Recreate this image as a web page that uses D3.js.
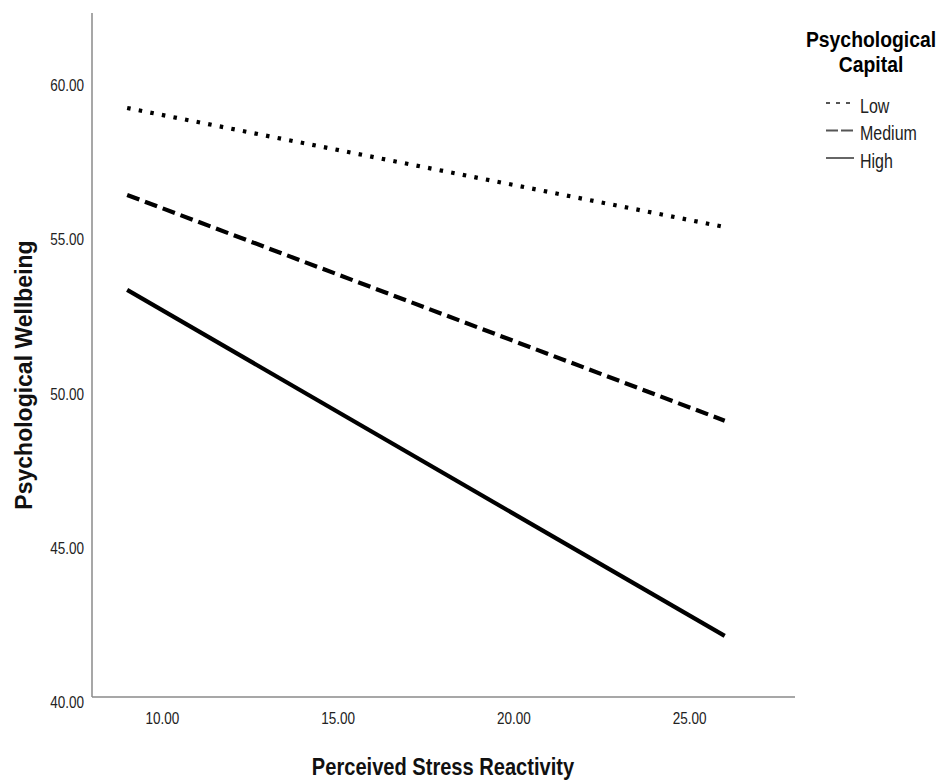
<!DOCTYPE html>
<html>
<head>
<meta charset="utf-8">
<script src="https://cdn.jsdelivr.net/npm/d3@7"></script>
<style>
  body { margin: 0; background: #fff; }
  svg { display: block; font-family: "Liberation Sans", Arial, sans-serif; }
</style>
</head>
<body>
<svg width="944" height="783"></svg>
<script>
// Data
var xValues = [9, 26]
var groups = ['Low', 'Medium', 'High']
var lowValues = [59.1, 55.24]
var mediumValues = [56.28, 48.96]
var highValues = [53.2, 41.98]
var xTicks = [10, 15, 20, 25]
var yTicks = [40, 45, 50, 55, 60]

var series = [
  { name: groups[0], values: lowValues, dash: '3.5,8.3', legendDash: '4,6' },
  { name: groups[1], values: mediumValues, dash: '13,6', legendDash: '12,3' },
  { name: groups[2], values: highValues, dash: null, legendDash: null }
]

// SPSS uses a narrow face; squeeze Liberation Sans horizontally
function narrowText(sel, px, py, k) {
  return sel.append('text')
    .attr('transform', 'translate(' + px + ',' + py + ') scale(' + (k || 0.82) + ',1)')
}

// The svg
var svg = d3.select('svg')

// Scales
var x = d3.scaleLinear().domain([8, 28]).range([92, 795])
var y = d3.scaleLinear().domain([40, 62.18]).range([697, 13])

// Axes lines
svg.append('line')
  .attr('x1', 92).attr('x2', 92)
  .attr('y1', y(62.18)).attr('y2', y(40))
  .attr('stroke', '#8a8a8a').attr('stroke-width', 1.5)
svg.append('line')
  .attr('x1', x(8)).attr('x2', x(28))
  .attr('y1', 697).attr('y2', 697)
  .attr('stroke', '#8a8a8a').attr('stroke-width', 1.5)

// Tick labels
var yt = svg.append('g')
yTicks.forEach(function(d) {
  narrowText(yt, 84, y(d) + 11)
    .attr('text-anchor', 'end')
    .attr('font-size', 16.5)
    .attr('fill', '#222')
    .text(d.toFixed(2))
})

var xt = svg.append('g')
xTicks.forEach(function(d) {
  narrowText(xt, x(d), 724)
    .attr('text-anchor', 'middle')
    .attr('font-size', 16.5)
    .attr('fill', '#222')
    .text(d.toFixed(2))
})

// Axis titles
narrowText(svg, 443, 775)
  .attr('text-anchor', 'middle')
  .attr('font-size', 24.5)
  .attr('font-weight', 'bold')
  .attr('fill', '#111')
  .text('Perceived Stress Reactivity')

svg.append('text')
  .attr('transform', 'translate(32,375) rotate(-90)')
  .attr('text-anchor', 'middle')
  .attr('font-size', 23)
  .attr('font-weight', 'bold')
  .attr('fill', '#111')
  .text('Psychological Wellbeing')

// Lines
var line = d3.line()
  .x(function(d, i) { return x(xValues[i]) })
  .y(function(d) { return y(d) })

svg.append('g')
  .selectAll('path')
  .data(series)
  .enter()
  .append('path')
  .attr('d', function(d) { return line(d.values) })
  .attr('fill', 'none')
  .attr('stroke', '#000')
  .attr('stroke-width', 4.2)
  .attr('stroke-dasharray', function(d) { return d.dash })

// Legend
var lg = svg.append('g')
narrowText(lg, 871, 47, 0.88)
  .attr('text-anchor', 'middle')
  .attr('font-size', 22).attr('font-weight', 'bold')
  .text('Psychological')
narrowText(lg, 871, 72, 0.88)
  .attr('text-anchor', 'middle')
  .attr('font-size', 22).attr('font-weight', 'bold')
  .text('Capital')

series.forEach(function(d, i) {
  var ly = 103 + i * 27.5
  lg.append('line')
    .attr('x1', 826).attr('x2', 854)
    .attr('y1', ly).attr('y2', ly)
    .attr('stroke', '#555').attr('stroke-width', 1.8)
    .attr('stroke-dasharray', d.legendDash)
  narrowText(lg, 860, ly + 9.5)
    .attr('font-size', 19.5)
    .attr('fill', '#222')
    .text(d.name)
})
</script>
</body>
</html>
